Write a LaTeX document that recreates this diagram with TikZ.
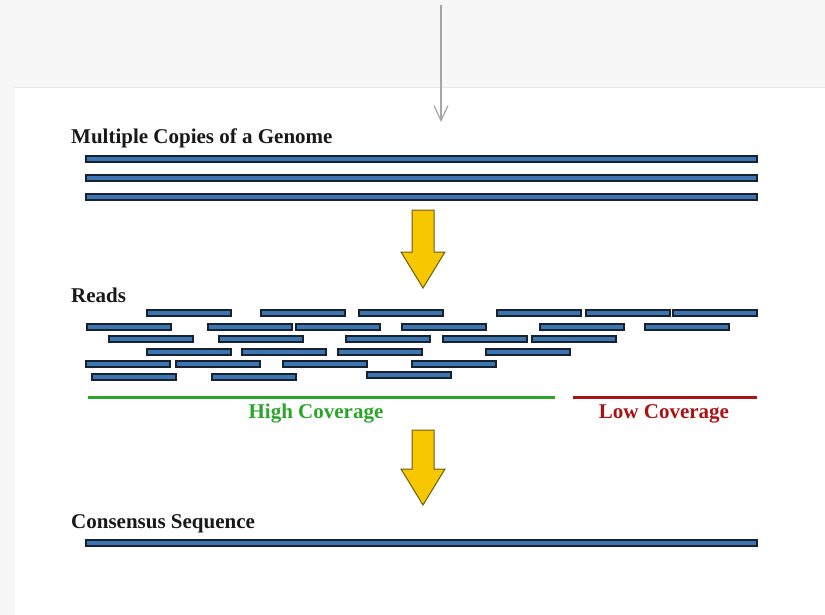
\documentclass[tikz,border=0pt]{standalone}
\usepackage{fontspec}
\setmainfont{Liberation Serif}
\usepackage{tikz}
\usetikzlibrary{arrows.meta}

\definecolor{seqblue}{HTML}{3B76B3}
\definecolor{seqedge}{HTML}{18222E}
\definecolor{gold}{HTML}{F7C700}
\definecolor{goldedge}{HTML}{6E5C10}
\definecolor{hicov}{HTML}{2AA52A}
\definecolor{locov}{HTML}{A81414}

\begin{document}
\begin{tikzpicture}[
	x=1pt, y=-1pt,
	font=\bfseries\fontsize{21}{25}\selectfont,
	titulo/.style={anchor=base west, inner sep=0pt, text=black!90},
	barra/.style={draw=seqedge, fill=seqblue, line width=1.3pt},
	seta/.style={draw=goldedge, fill=gold, line width=1pt, line join=miter},
	cobertura/.style={line width=3pt},
]
% fundo
\useasboundingbox (0,0) rectangle (825,615);
\fill[black!3] (0,0) rectangle (825,615);
\fill[white] (15,88) rectangle (825,615);
\draw[black!9, line width=1pt] (15,88) -- (825,88);
\coordinate (topo) at (441,5);
\coordinate (entrada) at (441,122);
\draw[gray!70, line width=1.2pt, -{Straight Barb[length=15pt, width=14pt, line width=1.2pt]}] (topo) -- (entrada);

% genomas
\node[titulo] (gen) at (71,144) {Multiple Copies of a Genome};
\foreach \y in {159,178,197}
	\draw[barra] (86,\y-3) rectangle (757,\y+3);

% setas amarelas
\foreach \t/\h/\b in {210/252/288, 430/469/505}
	\draw[seta] (412,\t) -- (434,\t) -- (434,\h) -- (445,\h) -- (423,\b) -- (401,\h) -- (412,\h) -- cycle;

% leituras
\node[titulo] (rd) at (71,302) {Reads};
\foreach \x/\y in {147/313,261/313,359/313,497/313,586/313,673/313,
	87/327,208/327,296/327,402/327,540/327,645/327,
	109/339,219/339,346/339,443/339,532/339,
	147/352,242/352,338/352,486/352,
	86/364,176/364,283/364,412/364,
	92/377,212/377,367/375}
	\draw[barra] (\x,\y-3) rectangle ++(84,6);

% cobertura
\coordinate (hA) at (88,397);
\coordinate (hB) at (555,397);
\coordinate (lA) at (573,397);
\coordinate (lB) at (757,397);
\draw[cobertura, hicov] (hA) -- (hB);
\draw[cobertura, locov] (lA) -- (lB);
\node[anchor=base, inner sep=0pt, text=hicov] (hc) at (316,418) {High Coverage};
\node[anchor=base, inner sep=0pt, text=locov] (lc) at (664,418) {Low Coverage};

% consenso
\node[titulo] (cs) at (71,528) {Consensus Sequence};
\draw[barra] (86,540) rectangle (757,546);
\end{tikzpicture}
\end{document}
